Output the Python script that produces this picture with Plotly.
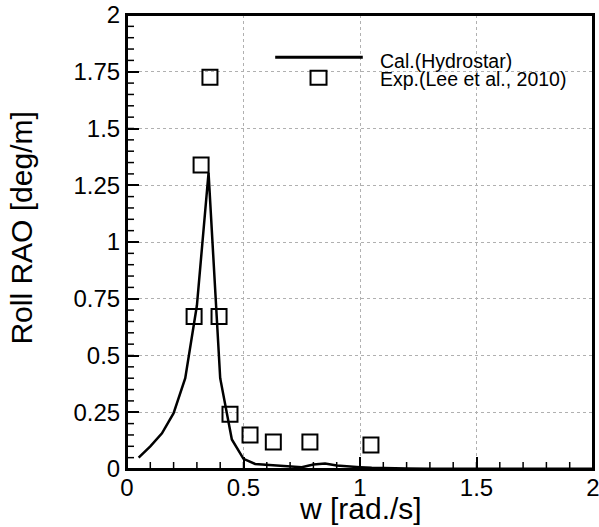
import numpy as np
import plotly.graph_objects as go

# Calculated (Hydrostar) roll RAO
cal_w = [0.05, 0.10, 0.15, 0.20, 0.25, 0.30, 0.35, 0.40, 0.45, 0.50, 0.55, 0.60, 0.65,
         0.70, 0.75, 0.80, 0.85, 0.90, 0.95, 1.00, 1.05, 1.10, 1.20, 1.30, 1.40, 1.50,
         1.60, 1.70, 1.80, 1.90, 2.00]
cal_rao = [0.05, 0.10, 0.157, 0.246, 0.40, 0.72, 1.305, 0.40, 0.13, 0.045, 0.022, 0.018, 0.016,
           0.012, 0.008, 0.02, 0.024, 0.015, 0.01, 0.008, 0.005, 0.003, 0.002, 0.001, 0.001, 0.001,
           0.001, 0.001, 0.001, 0.001, 0.001]

# Experiment (Lee et al., 2010)
exp_w = [0.288, 0.318, 0.356, 0.395, 0.442, 0.528, 0.628, 0.785, 1.047]
exp_rao = [0.672, 1.339, 1.726, 0.672, 0.241, 0.150, 0.119, 0.119, 0.106]

legend_names = ["Cal.(Hydrostar)", "Exp.(Lee et al., 2010)"]
x_title = "w [rad./s]"
y_title = "Roll RAO [deg/m]"
axis_range = [0, 2]
x_minor_step = 0.1
y_minor_step = 0.05

FONT = "Liberation Sans, Arial, sans-serif"

fig = go.Figure()
fig.add_trace(go.Scatter(x=cal_w, y=cal_rao, mode="lines",
                         line=dict(color="black", width=2.5), name=legend_names[0],
                         showlegend=False))
fig.add_trace(go.Scatter(x=exp_w, y=exp_rao, mode="markers",
                         marker=dict(symbol="square-open", size=15, color="black",
                                     line=dict(width=2, color="black")),
                         name=legend_names[1], showlegend=False))

axis_common = dict(
    showline=True, linecolor="black", linewidth=2, mirror=True,
    ticks="inside", ticklen=12, tickwidth=2, tickcolor="black",
    showgrid=True, gridcolor="#b0b0b0", gridwidth=1, griddash="dot",
    zeroline=False, tickfont=dict(family=FONT, size=24, color="black"),
    tickmode="linear", tick0=0, range=axis_range, automargin=False,
    ticklabeloverflow="allow",
)

fig.update_layout(
    xaxis=dict(dtick=0.5, ticklabelstandoff=-4, **axis_common),
    yaxis=dict(dtick=0.25, **axis_common),
)

# minor ticks (decoration derived from axis range and minor step)
for xv in np.arange(axis_range[0], axis_range[1] + 1e-9, x_minor_step):
    fig.add_shape(type="line", xref="x", yref="paper", ysizemode="pixel", yanchor=0,
                  x0=xv, x1=xv, y0=0, y1=7, line=dict(color="black", width=1.5))
for yv in np.arange(axis_range[0], axis_range[1] + 1e-9, y_minor_step):
    fig.add_shape(type="line", xref="paper", yref="y", xsizemode="pixel", xanchor=0,
                  x0=0, x1=7, y0=yv, y1=yv, line=dict(color="black", width=1.5))

# frame
fig.add_shape(type="rect", xref="paper", yref="paper", x0=0, x1=1, y0=0, y1=1,
              line=dict(color="black", width=2), layer="above")

# Manual legend (Tecplot-style)
fig.add_shape(type="line", xref="paper", yref="paper", x0=0.318, x1=0.506, y0=0.907, y1=0.907,
              line=dict(color="black", width=3))
fig.add_shape(type="rect", xref="paper", yref="paper", xsizemode="pixel", ysizemode="pixel",
              xanchor=0.411, yanchor=0.862, x0=-8, x1=8, y0=-7, y1=7,
              line=dict(color="black", width=2), fillcolor="white")
fig.add_annotation(text=legend_names[0], xref="paper", yref="paper", x=0.538, y=0.898,
                   xanchor="left", yanchor="middle", showarrow=False,
                   font=dict(family=FONT, size=19.5, color="black"))
fig.add_annotation(text=legend_names[1], xref="paper", yref="paper", x=0.538, y=0.860,
                   xanchor="left", yanchor="middle", showarrow=False,
                   font=dict(family=FONT, size=19.5, color="black"))

# axis titles
fig.add_annotation(text=y_title, xref="paper", yref="paper", x=-0.226, y=0.531,
                   xanchor="center", yanchor="middle", textangle=-90, showarrow=False,
                   font=dict(family=FONT, size=30, color="black"))
fig.add_annotation(text=x_title, xref="paper", yref="paper", x=0.5, y=-0.088,
                   xanchor="center", yanchor="middle", showarrow=False,
                   font=dict(family=FONT, size=30, color="black"))

fig.update_layout(width=599, height=527, margin=dict(l=127, r=6, t=15, b=58),
                  plot_bgcolor="white", paper_bgcolor="white", showlegend=False)

fig.write_html("out.html", config={"displayModeBar": False, "staticPlot": True},
               post_script="document.body.style.margin='0';")
